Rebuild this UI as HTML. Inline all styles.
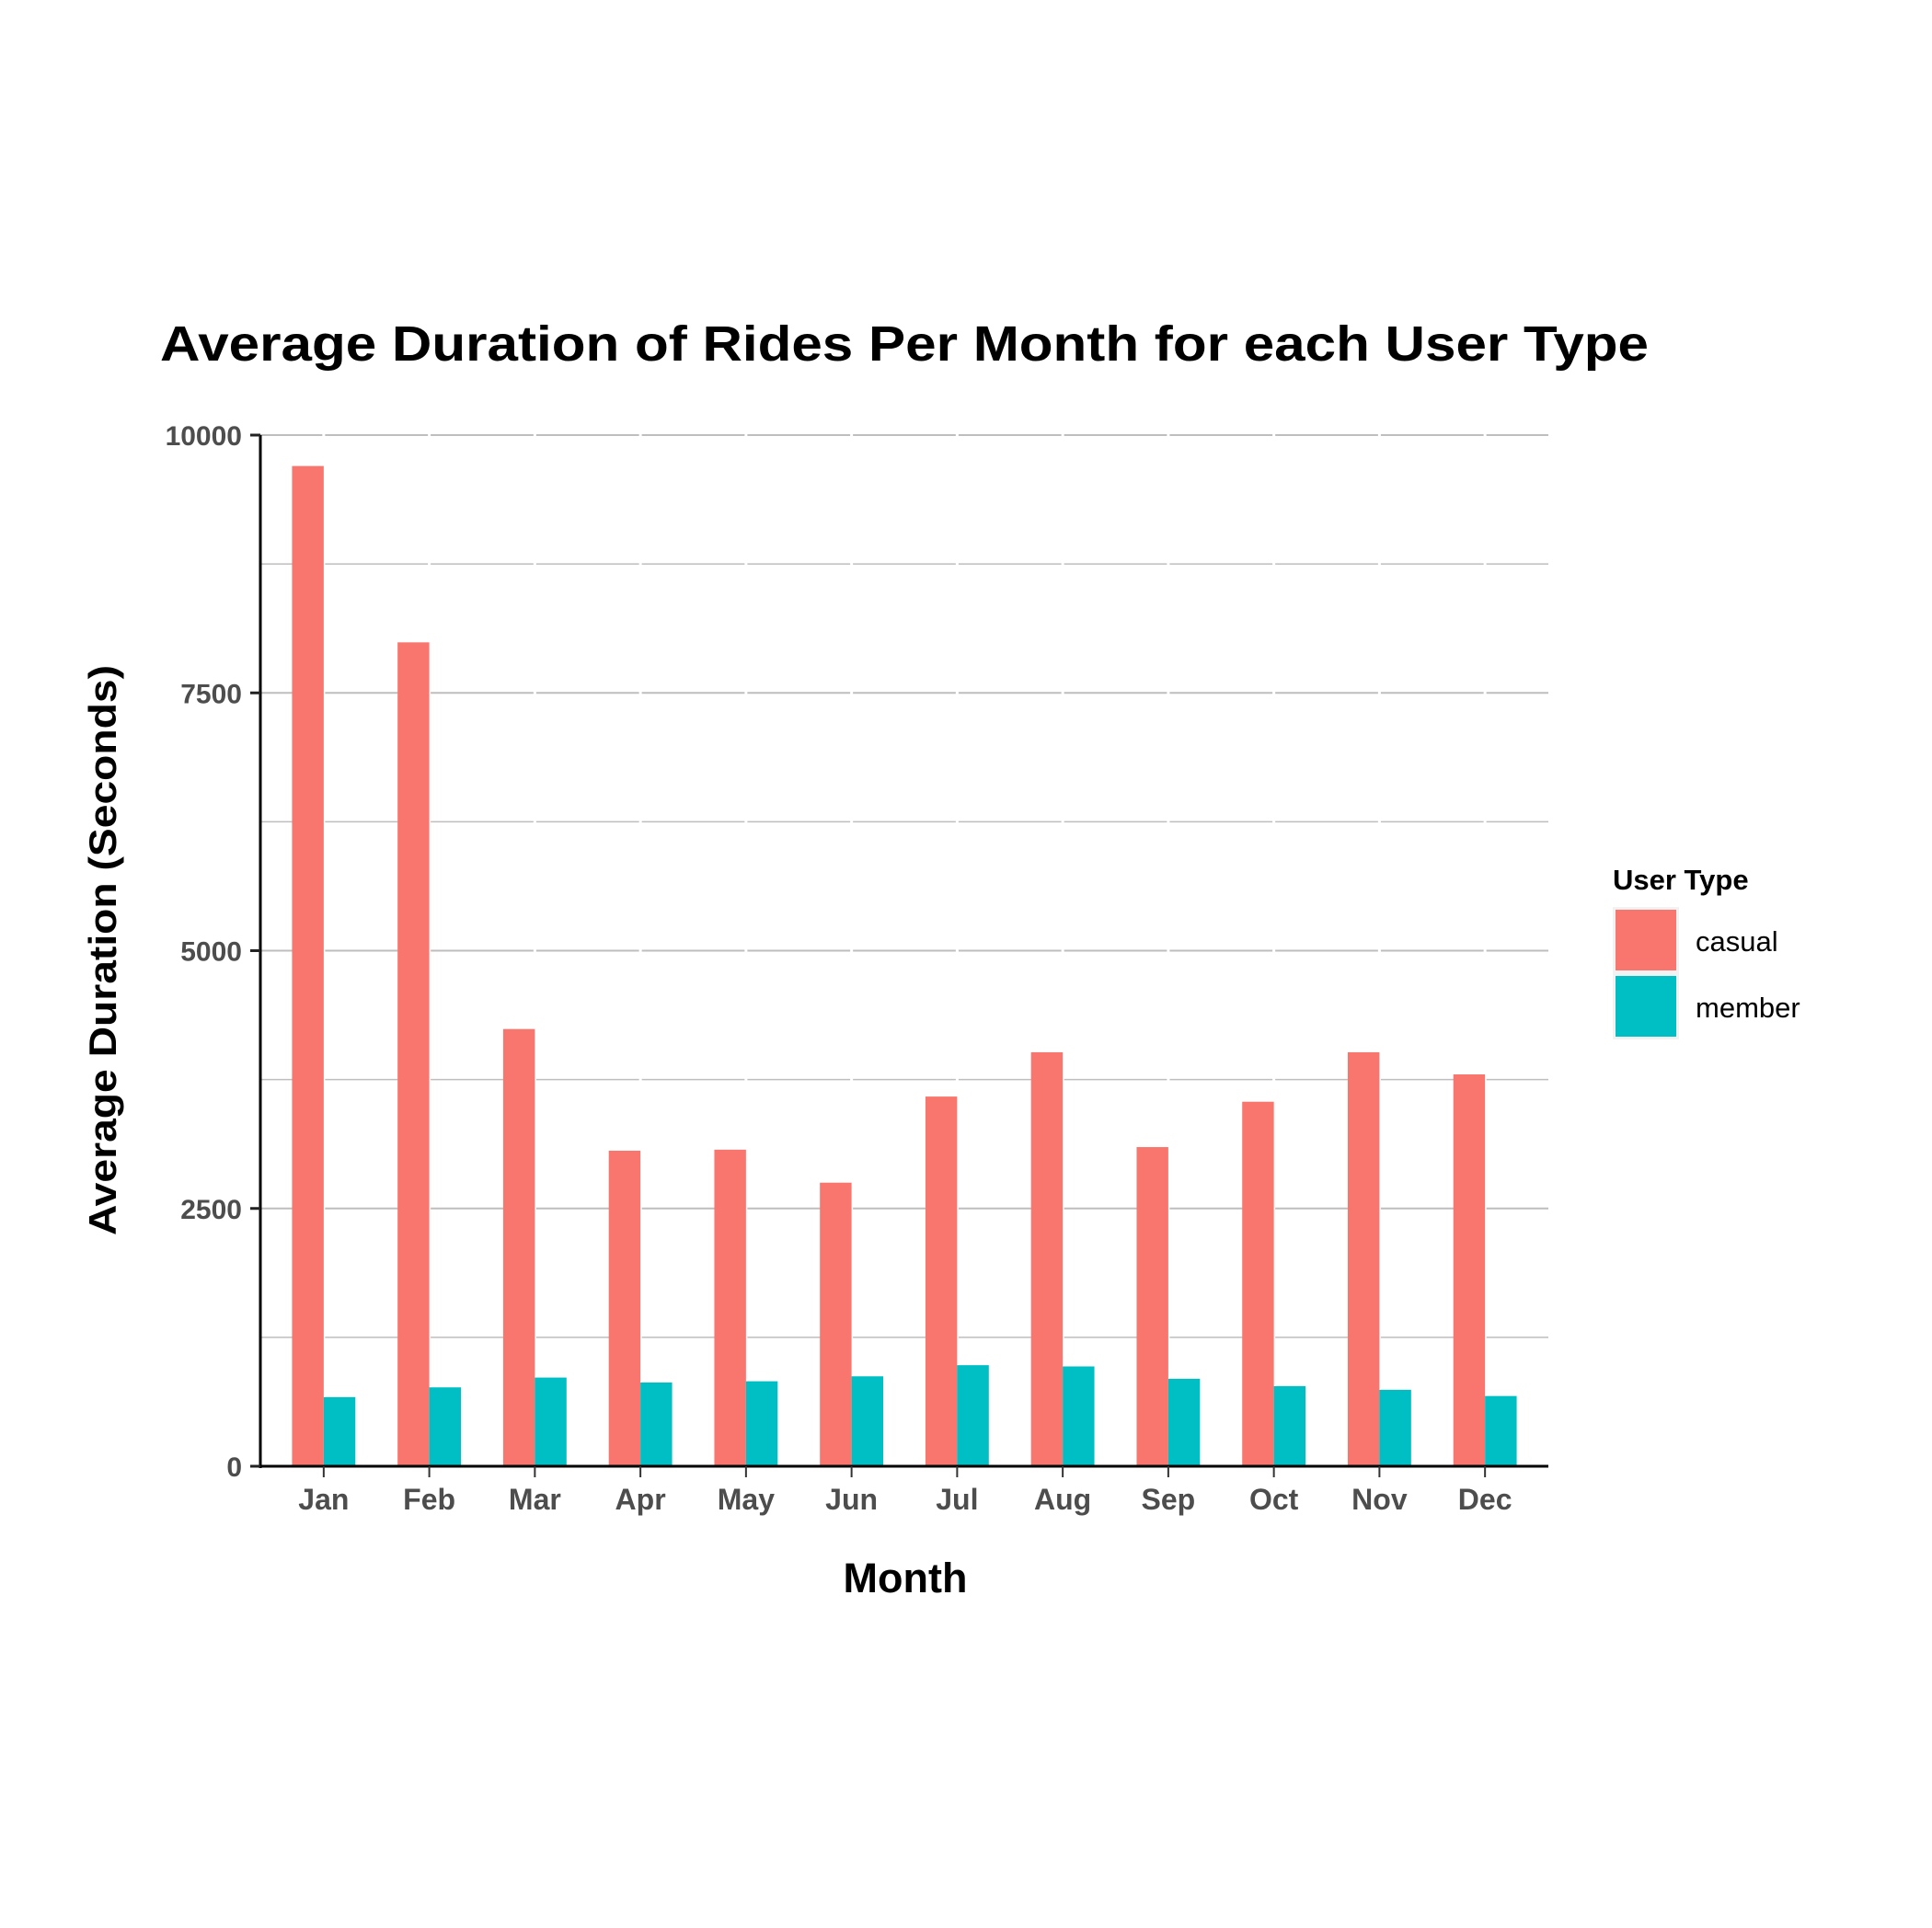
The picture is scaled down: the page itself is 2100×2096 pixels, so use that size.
<!DOCTYPE html>
<html><head><meta charset="utf-8"><style>
html,body{margin:0;padding:0;background:#fff;}
svg{display:block;font-family:"Liberation Sans",Arial,sans-serif;}
</style></head><body>
<svg id="chart" width="2100" height="2096" viewBox="0 0 2100 2096">
<rect width="2100" height="2096" fill="#fff"/>
<text x="174" y="392" font-size="54" font-weight="bold" fill="#000" textLength="1618" lengthAdjust="spacingAndGlyphs">Average Duration of Rides Per Month for each User Type</text>
<g id="grid"></g>
<g id="bars"></g>
<g id="axes"></g>
<text transform="translate(126,1033) rotate(-90)" text-anchor="middle" font-size="42" font-weight="bold" fill="#000" textLength="620" lengthAdjust="spacingAndGlyphs">Average Duration (Seconds)</text>
<text x="984" y="1731" text-anchor="middle" font-size="45" font-weight="bold" fill="#000">Month</text>
<g>
<text x="1753" y="967" font-size="31" font-weight="bold" fill="#000">User Type</text>
<rect x="1753" y="986" width="72" height="144" fill="#f2f2f2"/>
<rect x="1756" y="989" width="66" height="66" fill="#F8766D"/>
<rect x="1756" y="1061" width="66" height="66" fill="#00BFC4"/>
<text x="1843" y="1034" font-size="31" fill="#000">casual</text>
<text x="1843" y="1106" font-size="31" fill="#000">member</text>
</g>
</svg>
<script>
const months = ["Jan","Feb","Mar","Apr","May","Jun","Jul","Aug","Sep","Oct","Nov","Dec"];
const casual = [9700,7990,4240,3060,3070,2750,3585,4015,3095,3535,4015,3800];
const member = [670,765,860,812,824,872,980,968,848,777,741,681];
const yTicks = [0,2500,5000,7500,10000];
const yMinor = [1250,3750,6250,8750];

const NS = "http://www.w3.org/2000/svg";
const X0 = 283, X1 = 1683, Y0 = 1594, Y1 = 473, YMAX = 10000;
const n = months.length;
const unit = (X1 - X0) / (n - 1 + 1.2);
function xc(i){ return X0 + unit * (0.6 + i); }
function y(v){ return Y0 - (v / YMAX) * (Y0 - Y1); }
function mk(tag, attrs, parent){
  const e = document.createElementNS(NS, tag);
  for (const k in attrs) e.setAttribute(k, attrs[k]);
  parent.appendChild(e); return e;
}
const grid = document.getElementById('grid');
const bars = document.getElementById('bars');
const axes = document.getElementById('axes');

yMinor.forEach(v => {
  const l = mk('line', {x1:X0, x2:X1, y1:y(v), y2:y(v), stroke:'#bebebe', 'stroke-width':1.5}, grid);
  
  
});
yTicks.forEach(v => {
  const l = mk('line', {x1:X0, x2:X1, y1:y(v), y2:y(v), stroke:'#bebebe', 'stroke-width':2}, grid);
  
  
});
months.forEach((m, i) => {
  const l = mk('line', {x1:xc(i), x2:xc(i), y1:Y1-5, y2:Y0, stroke:'#fff', 'stroke-width':3}, grid);
  
  
});

const bw = unit * 0.3;
months.forEach((m, i) => {
  const c = mk('rect', {x:xc(i)-bw, y:y(casual[i]), width:bw, height:Y0-y(casual[i]), fill:'#F8766D'}, bars);
  
  
  const b = mk('rect', {x:xc(i), y:y(member[i]), width:bw, height:Y0-y(member[i]), fill:'#00BFC4'}, bars);
  
  
});

const ya = mk('line', {x1:X0, x2:X0, y1:Y1, y2:Y0+2, stroke:'#000', 'stroke-width':3}, axes);


const xa = mk('line', {x1:X0-2, x2:X1, y1:Y0, y2:Y0, stroke:'#000', 'stroke-width':3}, axes);



yTicks.forEach(v => {
  const t = mk('line', {x1:X0-11, x2:X0, y1:y(v), y2:y(v), stroke:'#222', 'stroke-width':3}, axes);
  
  
  const tx = mk('text', {x:X0-20, y:y(v)+11, 'text-anchor':'end', 'font-size':30, 'font-weight':'bold', fill:'#4d4d4d'}, axes);
  tx.textContent = String(v);
  
  
});
months.forEach((m, i) => {
  const t = mk('line', {x1:xc(i), x2:xc(i), y1:Y0, y2:Y0+12, stroke:'#333', 'stroke-width':2}, axes);
  
  
  const tx = mk('text', {x:xc(i), y:1641, 'text-anchor':'middle', 'font-size':32, 'font-weight':'bold', fill:'#4d4d4d'}, axes);
  tx.textContent = m;
  
  
});
</script>
</body></html>
